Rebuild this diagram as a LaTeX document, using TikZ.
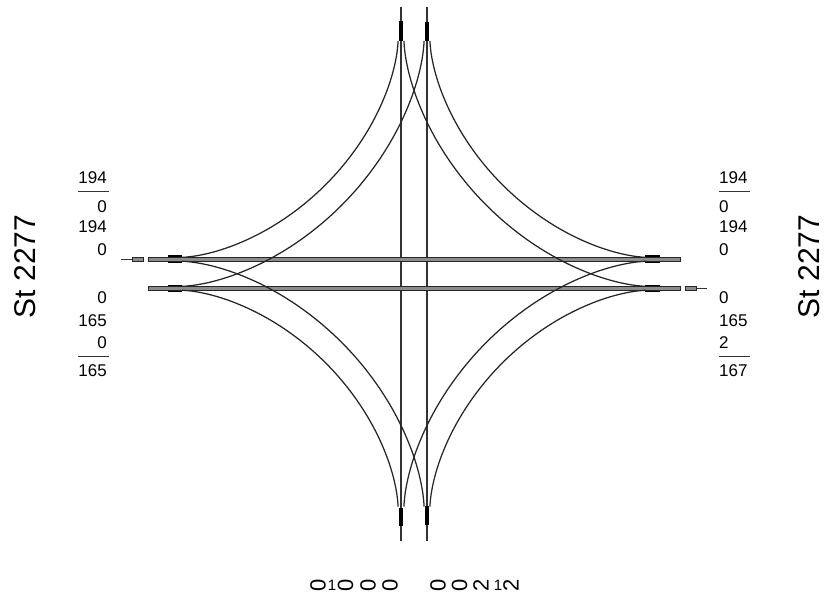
\documentclass[tikz,border=0pt]{standalone}
\usepackage{fontspec}
\setmainfont{Liberation Sans}
\tikzset{
 road/.style={draw=black!80,line width=1.1pt},
 curve/.style={draw=black!85,line width=1.25pt},
 thickseg/.style={draw=black,line width=4.5pt},
 thickh/.style={draw=black,line width=7.5pt},
 lane/.style={draw=black!85,fill=black!45,line width=1pt},
 val/.style={inner sep=0pt,font=\fontsize{17}{17}\selectfont},
 lval/.style={val,anchor=base east},
 rval/.style={val,anchor=base west},
 road name/.style={inner sep=0pt,rotate=90,font=\fontsize{30}{30}\selectfont},
 tick/.style={inner sep=0pt,rotate=90,font=\fontsize{22}{22}\selectfont,anchor=center},
 bar/.style={inner sep=0pt,font=\fontsize{15}{15}\selectfont,anchor=center},
 sumline/.style={draw=black!80,line width=1pt}
}
\begin{document}
\begin{tikzpicture}[x=1pt,y=-1pt]
\useasboundingbox (0,0) rectangle (824,596);
% vertical roads
\coordinate (v1t) at (401,7); \coordinate (v1b) at (401,541);
\coordinate (v2t) at (427,7); \coordinate (v2b) at (427,541);
\draw[road] (v1t) -- (v1b);
\draw[road] (v2t) -- (v2b);
\draw[thickseg] (401,21) -- (401,41);
\draw[thickseg] (427,22) -- (427,41);
\draw[thickseg] (401,508) -- (401,526);
\draw[thickseg] (427,506) -- (427,525);
% horizontal lanes
\draw[thickh] (168,259.2) -- (182,259.2);
\draw[thickh] (168,288.5) -- (182,288.5);
\draw[thickh] (645,259.2) -- (660,259.2);
\draw[thickh] (645,288.5) -- (660,288.5);
\path[lane] (148,257) rectangle (680,261.5);
\path[lane] (148,286.2) rectangle (680,290.7);
% stubs
\coordinate (st1) at (121,259.2); \coordinate (st2) at (132,259.2);
\coordinate (st3) at (707,288.5); \coordinate (st4) at (696,288.5);
\draw[road] (st1) -- (st2);
\path[lane] (132,257.2) rectangle (143,261.2);
\draw[road] (st3) -- (st4);
\path[lane] (685,286.5) rectangle (696,290.5);
% curves, four mirrored quadrants
\foreach \sx/\sy in {1/1,-1/1,1/-1,-1/-1}{
\begin{scope}[shift={(414,273.8)},xscale=\sx,yscale=\sy]
\draw[curve] (-16,-232.8) -- plot[domain=1:89,samples=70,variable=\t,smooth] ({-16-216*pow(sin(\t),3.15)},{-16.5-216*pow(cos(\t),3.15)}) -- (-232,-16.5);
\draw[curve] (10,-232.8) -- plot[domain=1:89,samples=70,variable=\t,smooth] ({10-242*pow(sin(\t),3.15)},{12.5-245*pow(cos(\t),3.15)}) -- (-232,12.5);
\end{scope}
}
% left values
\node[lval] (l1) at (107,183) {194};
\node[lval] (l2) at (107,212) {0};
\node[lval] (l3) at (107,233) {194};
\node[lval] (l4) at (107,255) {0};
\node[lval] (l5) at (107,303) {0};
\node[lval] (l6) at (107,326) {165};
\node[lval] (l7) at (107,348) {0};
\node[lval] (l8) at (107,376) {165};
\draw[sumline] (78,191.7) -- (109,191.7);
\draw[sumline] (78,356) -- (109,356);
% right values
\node[rval] (r1) at (719,183) {194};
\node[rval] (r2) at (719,212) {0};
\node[rval] (r3) at (719,233) {194};
\node[rval] (r4) at (719,255) {0};
\node[rval] (r5) at (719,303) {0};
\node[rval] (r6) at (719,326) {165};
\node[rval] (r7) at (719,348) {2};
\node[rval] (r8) at (719,376) {167};
\draw[sumline] (718.5,191.7) -- (749.5,191.7);
\draw[sumline] (718.5,356) -- (749.5,356);
% road names
\node[road name,anchor=base] (nl) at (35,266.5) {St 2277};
\node[road name,anchor=base] (nr) at (819,266.5) {St 2277};
% bottom digits
\foreach \n/\x/\d in {a/318/0,c/345.5/0,d/368/0,e/390/0,f/438/0,g/459.5/0,h/481/2,j/511/2}{
 \node[tick] (t\n) at (\x,585) {\d};
}
\node[bar] (tb) at (332,585) {1};
\node[bar] (ti) at (498,585) {1};
\end{tikzpicture}
\end{document}
